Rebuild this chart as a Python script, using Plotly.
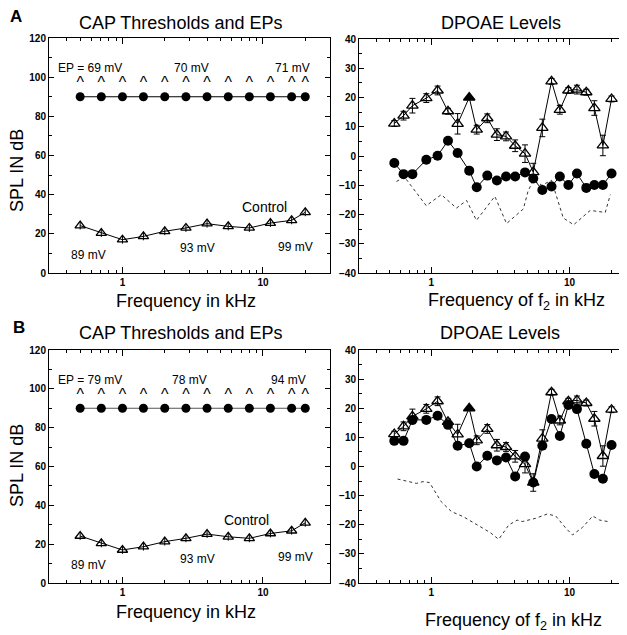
import math
import plotly.graph_objects as go

# ---------------- data ----------------
cap_f = [0.5, 0.707, 1, 1.41, 2, 2.83, 4, 5.66, 8, 11.3, 16, 20]
cap_control = [24.2, 20.4, 17.0, 18.7, 21.3, 23.0, 25.2, 23.8, 23.0, 25.5, 26.9, 31.0]
cap_control_err = [2, 2, 2, 2, 2, 2, 2, 2, 2, 2, 2, 2]
cap_treated_A = [90] * 12
cap_treated_B = [90] * 12
caret_level = [96.5] * 12

dp_f2 = [0.54, 0.63, 0.73, 0.92, 1.11, 1.32, 1.55, 1.88, 2.13, 2.54, 2.98, 3.47,
         4.04, 4.76, 5.46, 6.35, 7.4, 8.5, 9.8, 11.3, 13.2, 15.1, 17.4, 20.1]
dp_control = [11.1, 13.8, 17.2, 19.8, 22.4, 15.3, 11.0, 20.0, 9.0, 12.9, 7.3, 6.7,
              3.5, 0.8, -5.5, 9.6, 25.5, 15.8, 22.4, 22.7, 21.8, 16.4, 3.6, 19.5]
dp_control_err = [1, 1.5, 2.5, 1.5, 1.5, 1, 3.5, 0, 1.5, 1.5, 2, 1.5,
                  2, 3, 3, 3, 1, 1.5, 1, 1.5, 1, 2.5, 3.5, 1]
dp_filled_idx = 7
dp_A = [-2.4, -6.2, -6.2, -1.3, 0.1, 5.2, 1.0, -5.0, -10.7, -6.7, -8.4, -7.0,
        -7.0, -5.6, -7.7, -11.6, -10.4, -7.0, -9.9, -6.0, -10.9, -9.9, -9.9, -6.0]
dp_B = [8.8, 8.8, 16.0, 16.0, 17.4, 14.3, 7.1, 8.0, 0.0, 3.7, 2.1, 3.1,
        -3.4, 3.4, -5.5, 7.1, 16.3, 10.5, 21.1, 19.7, 7.8, -2.6, -4.2, 7.4]

noise_A_f = [0.56, 0.64, 0.92, 1.18, 1.52, 1.8, 2.12, 2.88, 3.5, 4.63, 5.0, 5.47,
             6.3, 7.4, 9.0, 10.7, 14.1, 18.1, 19.7]
noise_A = [-8.7, -7.2, -17.0, -13.2, -17.8, -15.2, -22.0, -13.8, -23.1, -18.1, -12.1, -8.1,
           -10.0, -8.3, -21.2, -23.5, -18.6, -19.3, -13.2]
noise_B_f = [0.57, 0.68, 0.78, 0.87, 0.97, 1.18, 1.40, 1.70, 2.67, 3.07, 3.63, 4.17,
             4.54, 5.68, 6.9, 7.94, 9.4, 10.5, 12.4, 14.7, 16.5, 18.9]
noise_B = [-4.3, -5.2, -5.8, -5.2, -5.5, -12.1, -15.5, -17.2, -22.7, -25.0, -20.1, -18.4,
           -18.9, -17.8, -16.3, -17.0, -21.2, -23.5, -20.9, -17.0, -18.4, -18.9]

ep_labels_A = ["EP = 69 mV", "70 mV", "71 mV"]
ep_labels_B = ["EP = 79 mV", "78 mV", "94 mV"]
ep_label_f_A = [0.59, 3.08, 16.3]
ep_label_f_B = [0.59, 3.0, 15.3]
ctrl_ep_labels = ["89 mV", "93 mV", "99 mV"]
ctrl_ep_f = [0.57, 3.41, 17.0]
ctrl_ep_y = [9.2, 12.6, 13.4]

minor_x = [0.3, 0.4, 0.5, 0.6, 0.7, 0.8, 0.9, 2, 3, 4, 5, 6, 7, 8, 9, 20, 30]

FONT = "Arial, Liberation Sans, sans-serif"
OFF = 8                      # page body margin
W, H = 627 - OFF, 635 - OFF  # figure size so it fills the window

fig = go.Figure()

def fx(p):
    return (p - OFF) / W

def fy(p):
    return 1 - (p - OFF) / H

dom_x = {1: [fx(49), fx(330)], 2: [fx(359), 1.0], 3: [fx(49), fx(330)], 4: [fx(359), 1.0]}
dom_y = {1: [fy(273), fy(38)], 2: [fy(273), fy(39)], 3: [fy(583), fy(350)], 4: [fy(583), fy(350)]}

def ax(n):
    return ("x" if n == 1 else f"x{n}"), ("y" if n == 1 else f"y{n}")

tickfont = dict(family=FONT, size=10, color="black", weight="bold")

for n in (1, 2, 3, 4):
    xa, ya = ax(n)
    left = n in (1, 3)
    xr = [math.log10(0.3), math.log10(30)] if left else [math.log10(0.3), math.log10(26)]
    xkey = "xaxis" if n == 1 else f"xaxis{n}"
    ykey = "yaxis" if n == 1 else f"yaxis{n}"
    fig.layout[xkey] = dict(
        domain=dom_x[n], anchor=ya, type="log", range=xr, automargin=False,
        showline=True, linecolor="black", linewidth=1, mirror="ticks",
        ticks="inside", ticklen=6, tickcolor="black",
        tickmode="array", tickvals=[1, 10], ticktext=["1", "10"],
        minor=dict(tickmode="array", tickvals=minor_x, ticks="inside", ticklen=3,
                   tickcolor="black", showgrid=False),
        showgrid=False, zeroline=False, tickfont=tickfont,
    )
    if left:
        yd = dict(range=[0, 120], tickvals=[0, 20, 40, 60, 80, 100, 120],
                  minor=dict(tickmode="array", tickvals=[10, 30, 50, 70, 90, 110],
                             ticks="inside", ticklen=3, tickcolor="black"),
                  mirror="ticks")
    else:
        yd = dict(range=[-40, 40], tickvals=list(range(-40, 41, 10)),
                  minor=dict(tickmode="array", tickvals=list(range(-35, 40, 10)),
                             ticks="inside", ticklen=3, tickcolor="black"),
                  mirror=False)
    fig.layout[ykey] = dict(
        domain=dom_y[n], anchor=xa, tickmode="array", automargin=False,
        showline=True, linecolor="black", linewidth=1,
        ticks="inside", ticklen=5, tickcolor="black",
        showgrid=False, zeroline=False, tickfont=tickfont, **yd,
    )

# ---- CAP panels ----
for n, treated, ep_labels, ep_f in ((1, cap_treated_A, ep_labels_A, ep_label_f_A),
                                    (3, cap_treated_B, ep_labels_B, ep_label_f_B)):
    xa, ya = ax(n)
    fig.add_trace(go.Scatter(
        x=cap_f, y=cap_control, mode="lines+markers", xaxis=xa, yaxis=ya,
        line=dict(color="black", width=1),
        marker=dict(symbol="triangle-up-open", size=9, color="black", line=dict(width=1.3)),
        error_y=dict(type="data", array=cap_control_err, color="black", thickness=1, width=0),
        showlegend=False))
    fig.add_trace(go.Scatter(
        x=cap_f, y=treated, mode="lines+markers", xaxis=xa, yaxis=ya,
        line=dict(color="black" if n == 1 else "#555", width=1),
        marker=dict(symbol="circle", size=9, color="black"),
        showlegend=False))
    fig.add_trace(go.Scatter(
        x=cap_f, y=caret_level, mode="text", text=["^"] * len(cap_f), xaxis=xa, yaxis=ya,
        textfont=dict(family=FONT, size=16, color="black"), showlegend=False))
    for lab, f in zip(ep_labels, ep_f):
        fig.add_annotation(x=math.log10(f), y=104.7, xref=xa, yref=ya, text=lab,
                           showarrow=False, xanchor="center", yanchor="middle",
                           font=dict(family=FONT, size=12, color="black"))
    for lab, f, yy in zip(ctrl_ep_labels, ctrl_ep_f, ctrl_ep_y):
        fig.add_annotation(x=math.log10(f), y=yy, xref=xa, yref=ya, text=lab,
                           showarrow=False, xanchor="center", yanchor="middle",
                           font=dict(family=FONT, size=12, color="black"))
    fig.add_annotation(x=math.log10(10.2 if n == 1 else 7.6), y=33.9 if n == 1 else 32.4,
                       xref=xa, yref=ya, text="Control", showarrow=False,
                       xanchor="center", yanchor="middle",
                       font=dict(family=FONT, size=14, color="black"))

# ---- DPOAE panels ----
sym = ["triangle-up-open"] * len(dp_f2)
sym[dp_filled_idx] = "triangle-up"
for n, dp, nf, nv in ((2, dp_A, noise_A_f, noise_A), (4, dp_B, noise_B_f, noise_B)):
    xa, ya = ax(n)
    fig.add_trace(go.Scatter(
        x=nf, y=nv, mode="lines", xaxis=xa, yaxis=ya,
        line=dict(color="#333", width=1, dash="3px,3px"), showlegend=False))
    fig.add_trace(go.Scatter(
        x=dp_f2, y=dp, mode="lines+markers", xaxis=xa, yaxis=ya,
        line=dict(color="black", width=1),
        marker=dict(symbol="circle", size=10, color="black"),
        showlegend=False))
    fig.add_trace(go.Scatter(
        x=dp_f2, y=dp_control, mode="lines+markers", xaxis=xa, yaxis=ya,
        line=dict(color="black", width=1),
        marker=dict(symbol=sym, size=10, color="black", line=dict(width=1.3, color="black")),
        error_y=dict(type="data", array=dp_control_err, color="black", thickness=1, width=3),
        showlegend=False))

# ---- titles / labels ----
def txt(x, y, s, size, **kw):
    fig.add_annotation(x=fx(x), y=fy(y), xref="paper", yref="paper", text=s,
                       showarrow=False, xanchor="center", yanchor="middle",
                       font=dict(family=FONT, size=size, color="black"), **kw)

txt(180, 23, "CAP Thresholds and EPs", 18)
txt(501, 23, "DPOAE Levels", 18)
txt(180, 333, "CAP Thresholds and EPs", 18)
txt(500, 333, "DPOAE Levels", 18)
txt(186, 301, "Frequency in kHz", 18)
txt(186, 612, "Frequency in kHz", 18)
txt(516, 301, "Frequency of f<sub>2</sub> in kHz", 18)
txt(513, 621, "Frequency of f<sub>2</sub> in kHz", 18)
txt(17, 171, "SPL IN dB", 18, textangle=-90)
txt(17, 466, "SPL IN dB", 18, textangle=-90)
txt(16, 16, "<b>A</b>", 17)
txt(19, 327, "<b>B</b>", 17)

fig.update_layout(width=W, height=H, margin=dict(l=0, r=0, t=0, b=0, autoexpand=False),
                  paper_bgcolor="white", plot_bgcolor="white", showlegend=False)
fig.write_html("out.html")
